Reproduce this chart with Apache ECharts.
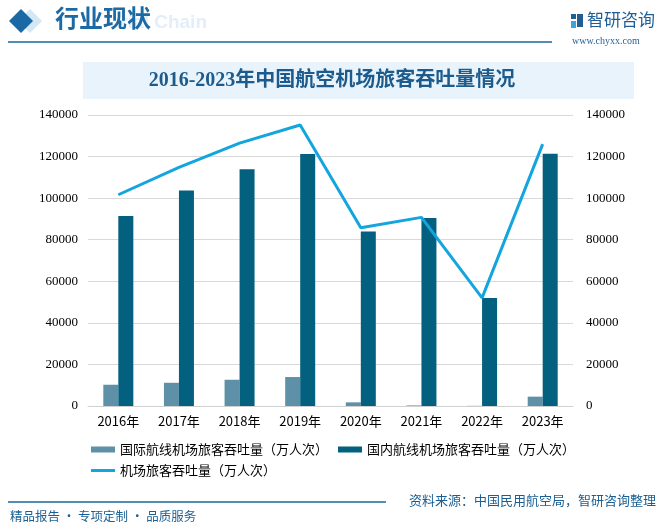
<!DOCTYPE html>
<html><head><meta charset="utf-8">
<script src="https://cdn.jsdelivr.net/npm/echarts@6/dist/echarts.min.js"></script>
<style>html,body{margin:0;padding:0;background:#fff}#c{width:665px;height:532px}</style>
</head><body><div id="c"></div>
<script>
const categories = ['2016年','2017年','2018年','2019年','2020年','2021年','2022年','2023年'];
const intlValues = [10229, 11170, 12627, 13936, 1764, 266, 80, 4500];
const domesticValues = [91406, 103617, 113842, 121227, 83952, 90482, 51953, 121400];
const totalValues = [101635, 114787, 126469, 135163, 85716, 90748, 52033, 125977];
const yTicks = {min: 0, max: 140000, interval: 20000};
const seriesNames = ['国际航线机场旅客吞吐量（万人次）','国内航线机场旅客吞吐量（万人次）','机场旅客吞吐量（万人次）'];

const chart = echarts.init(document.getElementById('c'), null, {renderer:'canvas'});
const sans = '"Noto Sans CJK SC", "Noto Sans", sans-serif';
const serif = '"Liberation Serif", "DejaVu Serif", serif';
const yAxisBase = {
  type:'value', min:yTicks.min, max:yTicks.max, interval:yTicks.interval,
  axisLine:{show:false}, axisTick:{show:false},
  axisLabel:{fontFamily:serif, fontSize:13, color:'#000', formatter:function(v){return String(v);}},
};
chart.setOption({
  animation:false,
  backgroundColor:'#fff',
  grid:{left:88, right:92, top:115, bottom:126},
  graphic:[
    {type:'text', x:207, y:23, style:{text:'rial Chain', font:'bold 19px "Liberation Sans", sans-serif', fill:'#e3eef8', align:'right', verticalAlign:'middle'}},
    {type:'polygon', shape:{points:[[30,9],[42,21],[30,33],[18,21]]}, style:{fill:'#d3e7f4'}},
    {type:'polygon', shape:{points:[[21,9],[33,21],[21,33],[9,21]]}, style:{fill:'#1a69a4'}},
    {type:'text', left:55, top:6, style:{text:'行业现状', font:'bold 24px "Noto Sans CJK SC", sans-serif', fill:'#1b6aa5'}},
    {type:'line', shape:{x1:8,y1:42,x2:552,y2:42}, style:{stroke:'#1a6a9a', lineWidth:1.5}},
    {type:'rect', shape:{x:571,y:14,width:5,height:5}, style:{fill:'#1f5f95'}},
    {type:'rect', shape:{x:577,y:14,width:6,height:13}, style:{fill:'#1f5f95'}},
    {type:'rect', shape:{x:571,y:21,width:5,height:7}, style:{fill:'#3aa4dc'}},
    {type:'text', left:587, top:11, style:{text:'智研咨询', font:'17px "Noto Sans CJK SC", sans-serif', fill:'#1f5f95'}},
    {type:'text', left:572, top:36, style:{text:'www.chyxx.com', font:'10px "Liberation Serif", serif', fill:'#1f5f95'}},
    {type:'rect', shape:{x:83,y:62,width:551,height:37}, style:{fill:'#e8f3fb'}},
    {type:'text', x:332, y:81, style:{text:'2016-2023年中国航空机场旅客吞吐量情况', font:'bold 20px "Liberation Serif", "Noto Sans CJK SC", serif', fill:'#1d5b8c', align:'center', verticalAlign:'middle'}},
    {type:'line', shape:{x1:8,y1:502,x2:386,y2:502}, style:{stroke:'#1a6a9a', lineWidth:1.5}},
    {type:'text', right:9, top:494, style:{text:'资料来源：中国民用航空局，智研咨询整理', font:'13px "Noto Sans CJK SC", sans-serif', fill:'#1b5f92'}},
    {type:'text', left:10, top:510, style:{text:'精品报告 · 专项定制 · 品质服务', font:'12.5px "Noto Sans CJK SC", sans-serif', fill:'#1b5f92'}}
  ],
  legend:[
    {left:91, top:443, padding:0, itemWidth:24, itemHeight:6, itemGap:10, icon:'rect',
     data:[seriesNames[0], seriesNames[1]],
     textStyle:{fontFamily:sans, fontSize:13, color:'#000'}},
    {left:91, top:464, padding:0, itemWidth:24, itemHeight:3, itemGap:10, icon:'rect',
     data:[seriesNames[2]],
     textStyle:{fontFamily:sans, fontSize:13, color:'#000'}}
  ],
  xAxis:{type:'category', data:categories,
    axisLine:{lineStyle:{color:'#d0d0d0'}}, axisTick:{show:false},
    axisLabel:{fontFamily:sans, fontSize:13, color:'#000', margin:9}},
  yAxis:[
    Object.assign({}, yAxisBase, {position:'left', splitLine:{lineStyle:{color:'#d9d9d9'}}, axisLabel:Object.assign({}, yAxisBase.axisLabel, {margin:10})}),
    Object.assign({}, yAxisBase, {position:'right', splitLine:{show:false}, axisLabel:Object.assign({}, yAxisBase.axisLabel, {margin:13})})
  ],
  series:[
    {name:seriesNames[0], type:'bar', data:intlValues, barWidth:15, barGap:'0%', itemStyle:{color:'#5e91a8'}},
    {name:seriesNames[1], type:'bar', data:domesticValues, barWidth:15, barGap:'0%', itemStyle:{color:'#03607f'}},
    {name:seriesNames[2], type:'line', yAxisIndex:1, data:totalValues, symbol:'none', lineStyle:{width:3, color:'#12a5de'}, itemStyle:{color:'#12a5de'}}
  ]
});
</script></body></html>
